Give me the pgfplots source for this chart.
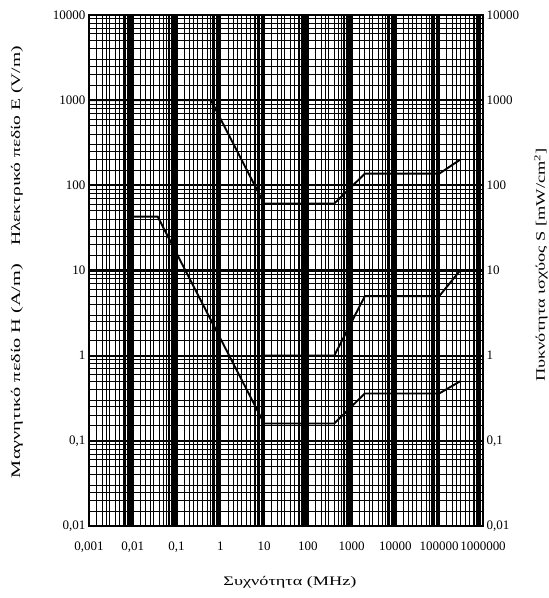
\documentclass[border=0pt]{standalone}
\usepackage{pgfplots}
\pgfplotsset{compat=1.18}
\usepackage{fontspec}
\setmainfont{Liberation Serif}
\usepackage{graphicx}
\begin{document}
\begin{tikzpicture}
\useasboundingbox (-89pt,-72pt) rectangle (460pt,526pt);
\begin{axis}[
  at={(0pt,0pt)}, anchor=south west,
  scale only axis, width=394pt, height=511pt,
  xmode=log, ymode=log,
  xmin=0.001, xmax=1000000, ymin=0.01, ymax=10000,
  tick style={draw=none},
  axis line style={black, line width=1.6pt},
  ticklabel style={font=\fontsize{13}{15}\selectfont},
  xtick={0.001,0.01,0.1,1,10,100,1000,10000,100000,1000000},
  xticklabels={{0,001},{0,01},{0,1},1,10,100,1000,10000,100000,1000000},
  ytick={0.01,0.1,1,10,100,1000,10000},
  yticklabels={{0,01},{0,1},1,10,100,1000,10000},
  xticklabel style={yshift=-12pt},
  grid=both,
  major grid style={black, line width=2.2pt},
  minor grid style={black, line width=1.0pt},
  extra x ticks={0.0015,0.0025,0.0065,0.0075,0.0085,0.0095,
                 0.015,0.025,0.065,0.075,0.085,0.095,
                 0.15,0.25,0.65,0.75,0.85,0.95,
                 1.5,2.5,6.5,7.5,8.5,9.5,
                 15,25,65,75,85,95,
                 150,250,650,750,850,950,
                 1500,2500,6500,7500,8500,9500,
                 15000,25000,65000,75000,85000,95000,
                 150000,250000,650000,750000,850000,950000},
  extra y ticks={0.015,0.025,0.15,0.25,1.5,2.5,15,25,150,250,1500,2500},
  extra x tick labels={},
  extra y tick labels={},
  extra tick style={grid=major, major grid style={black, line width=1.0pt}},
]
% E field (V/m)
\addplot[black, line width=1.9pt] coordinates {
  (0.001,1000) (0.61,1000) (10,61) (400,61) (2000,137) (100000,137) (300000,200)};
% H field (A/m)
\addplot[black, line width=1.9pt] coordinates {
  (0.01,43) (0.037,43) (10,0.16) (400,0.16) (2000,0.36) (100000,0.36) (300000,0.5)};
% Power density S (mW/cm2)
\addplot[black, line width=1.9pt] coordinates {
  (10,1) (400,1) (2000,5) (100000,5) (300000,10)};
\end{axis}
\begin{axis}[
  at={(0pt,0pt)}, anchor=south west,
  scale only axis, width=394pt, height=511pt,
  xmode=log, ymode=log,
  xmin=0.001, xmax=1000000, ymin=0.01, ymax=10000,
  tick style={draw=none},
  axis line style={black, line width=1.6pt},
  ticklabel style={font=\fontsize{13}{15}\selectfont},
  hide x axis,
  axis y line*=right,
  ytick={0.01,0.1,1,10,100,1000,10000},
  yticklabels={{0,01},{0,1},1,10,100,1000,10000},
]
\addplot[draw=none] coordinates {(1,1)};
\end{axis}
\node[rotate=90] at (-72pt,380pt) {\resizebox{200pt}{\height}{\fontsize{13}{15}\selectfont Ηλεκτρικό πεδίο E (V/m)}};
\node[rotate=90] at (-72pt,155pt) {\resizebox{214pt}{\height}{\fontsize{13}{15}\selectfont Μαγνητικό πεδίο H (A/m)}};
\node[rotate=90] at (452pt,261pt) {\resizebox{234pt}{\height}{\fontsize{13}{15}\selectfont Πυκνότητα ισχύος S [mW/cm\textsuperscript{2}]}};
\node at (201pt,-56pt) {\resizebox{133pt}{\height}{\fontsize{13}{15}\selectfont Συχνότητα (MHz)}};
\end{tikzpicture}
\end{document}
